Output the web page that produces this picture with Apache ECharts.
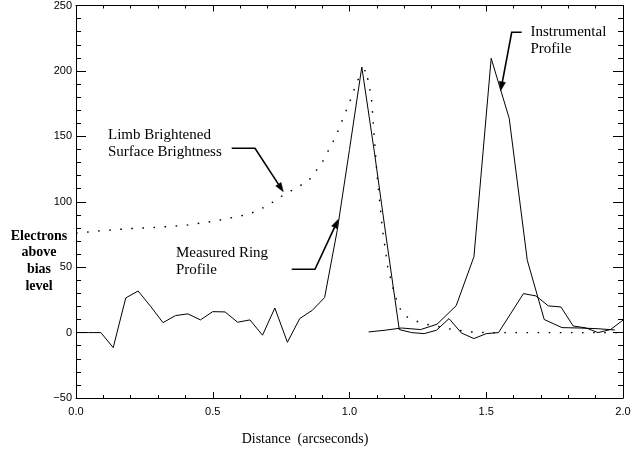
<!DOCTYPE html>
<html>
<head>
<meta charset="utf-8">
<script src="https://cdn.jsdelivr.net/npm/echarts@6/dist/echarts.min.js"></script>
<style>
html,body{margin:0;padding:0;background:#fff;}
#chart{width:634px;height:450px;}
</style>
</head>
<body>
<div id="chart"></div>
<script>
// Measured ring profile (solid)
const measuredX = [0, 0.045, 0.091, 0.136, 0.182, 0.227, 0.273, 0.318, 0.364, 0.409, 0.455, 0.5, 0.545, 0.591, 0.636, 0.682, 0.727, 0.773, 0.818, 0.864, 0.909, 0.955, 1.0, 1.045, 1.091, 1.136, 1.182, 1.227, 1.273, 1.318, 1.364, 1.409, 1.455, 1.5, 1.545, 1.591, 1.636, 1.682, 1.727, 1.773, 1.818, 1.864, 1.909, 1.955, 2.0];
const measuredY = [0, 0, 0, -11.5, 26.5, 31.8, 20, 7.6, 13, 14.3, 9.7, 16, 15.8, 7.9, 9.7, -2, 18.8, -7.4, 10.7, 17, 26.8, 78, 140, 203, 138, 70, 2.3, 0, -0.8, 1.8, 10.7, -0.3, -4.6, -0.8, 0, 15, 29.8, 28, 20.4, 19.6, 5, 3.6, 0, 2.4, 9.5];
// Instrumental profile (solid)
const instX = [1.07, 1.13, 1.19, 1.26, 1.32, 1.39, 1.455, 1.518, 1.584, 1.65, 1.712, 1.777, 1.84, 1.905, 1.97];
const instY = [0.5, 1.8, 3.5, 2.3, 6.4, 20.5, 58, 209.6, 163.7, 55.3, 10, 3.8, 3.5, 3, 2];
// Limb brightened surface brightness (dotted)
const limbX = [0, 0.1, 0.2, 0.3, 0.4, 0.5, 0.6, 0.65, 0.7, 0.75, 0.8, 0.85, 0.9, 0.95, 1.0, 1.03, 1.06, 1.08, 1.1, 1.12, 1.14, 1.16, 1.18, 1.2, 1.24, 1.28, 1.32, 1.36, 1.44, 1.5, 2.0];
const limbY = [76, 78, 79.5, 80.5, 82, 85, 89, 92, 97, 104, 110, 116, 130, 150, 176, 193, 201, 180, 122, 80, 50, 33, 20, 13, 9, 6.4, 4.8, 3, 0.5, 0, 0];
// Axis ticks
const xTicks = [0.0, 0.5, 1.0, 1.5, 2.0];
const yTicks = [-50, 0, 50, 100, 150, 200, 250];

const zip = (xs, ys) => xs.map((x, i) => [x, ys[i]]);

const chart = echarts.init(document.getElementById('chart'));

const serif = '"Liberation Serif", "DejaVu Serif", serif';

function toNum(v) {
  if (typeof v === 'number') return v;
  if (v && typeof v === 'object' && 'value' in v) return Number(v.value);
  return parseFloat(v);
}
function fmtX(v) {
  const n = toNum(v);
  return isFinite(n) ? n.toFixed(1) : String(v);
}
function fmtY(v) {
  const n = toNum(v);
  if (!isFinite(n)) return String(v);
  return n < 0 ? '\u2212' + Math.abs(n) : String(n);
}

function axisDef(kind, pos) {
  const isX = kind === 'x';
  const ticks = isX ? xTicks : yTicks;
  const d = {
    type: 'value', min: ticks[0], max: ticks[ticks.length - 1], interval: ticks[1] - ticks[0], position: pos,
    axisLine: {show: true, onZero: false, lineStyle: {color: '#000', width: 1}},
    axisTick: {show: true, inside: true, length: isX ? 6 : 10, lineStyle: {color: '#000', width: 1}},
    minorTick: {show: true, splitNumber: 5, length: isX ? 3 : 5, lineStyle: {color: '#000', width: 1}},
    splitLine: {show: false}
  };
  if (pos === 'bottom') {
    d.axisLabel = {show: true, margin: 8, fontSize: 11, color: '#000', formatter: fmtX};
  } else if (pos === 'left') {
    d.axisLabel = {show: true, margin: 4, fontSize: 11, color: '#000', formatter: fmtY};
  } else {
    d.axisLabel = {show: false, fontSize: 11, color: '#000'};
  }
  return d;
}

function arrow(points) {
  const n = points.length;
  const [x1, y1] = points[n - 2];
  const [x2, y2] = points[n - 1];
  const ang = Math.atan2(y2 - y1, x2 - x1);
  const L = 9, W = 3.2;
  const bx = x2 - L * Math.cos(ang), by = y2 - L * Math.sin(ang);
  const px = -Math.sin(ang) * W, py = Math.cos(ang) * W;
  return [
    {type: 'polyline', shape: {points: points.slice(0, n - 1).concat([[bx, by]])}, style: {stroke: '#000', lineWidth: 1.6}},
    {type: 'polygon', shape: {points: [[x2, y2], [bx + px, by + py], [bx - px, by - py]]}, style: {fill: '#000', stroke: '#000', lineWidth: 0.5}}
  ];
}

function label(x, y, text, opts) {
  return {type: 'text', x: x, y: y, style: Object.assign({text: text, font: '15px ' + serif, fill: '#000', verticalAlign: 'middle'}, opts || {})};
}

const option = {
  animation: false,
  grid: {left: 76, right: 11, top: 5, bottom: 52},
  xAxis: [axisDef('x', 'bottom'), axisDef('x', 'top')],
  yAxis: [axisDef('y', 'left'), axisDef('y', 'right')],
  series: [
    {type: 'line', name: 'Measured Ring Profile', data: zip(measuredX, measuredY), symbol: 'none', lineStyle: {color: '#000', width: 1}},
    {type: 'line', name: 'Instrumental Profile', data: zip(instX, instY), symbol: 'none', lineStyle: {color: '#000', width: 1}},
    {type: 'line', name: 'Limb Brightened Surface Brightness', data: zip(limbX, limbY), symbol: 'none', lineStyle: {color: '#000', width: 1.4, type: [1.6, 9.5]}}
  ],
  graphic: [].concat(
    arrow([[521.7, 32.3], [511.7, 32.3], [500.7, 90.7]]),
    arrow([[231.7, 148.3], [255, 148.3], [283.3, 191.7]]),
    arrow([[291.7, 269.3], [315, 269.3], [338.3, 219.3]]),
    [
      label(530.5, 32, 'Instrumental'),
      label(530.5, 49, 'Profile'),
      label(108, 135, 'Limb Brightened'),
      label(108, 152, 'Surface Brightness'),
      label(176, 253, 'Measured Ring'),
      label(176, 270, 'Profile'),
      label(39, 236, 'Electrons', {font: 'bold 14px ' + serif, align: 'center'}),
      label(39, 252, 'above', {font: 'bold 14px ' + serif, align: 'center'}),
      label(39, 269, 'bias', {font: 'bold 14px ' + serif, align: 'center'}),
      label(39, 286, 'level', {font: 'bold 14px ' + serif, align: 'center'}),
      label(305, 439, 'Distance  (arcseconds)', {font: '14px ' + serif, align: 'center'})
    ]
  )
};
chart.setOption(option);
</script>
</body>
</html>
